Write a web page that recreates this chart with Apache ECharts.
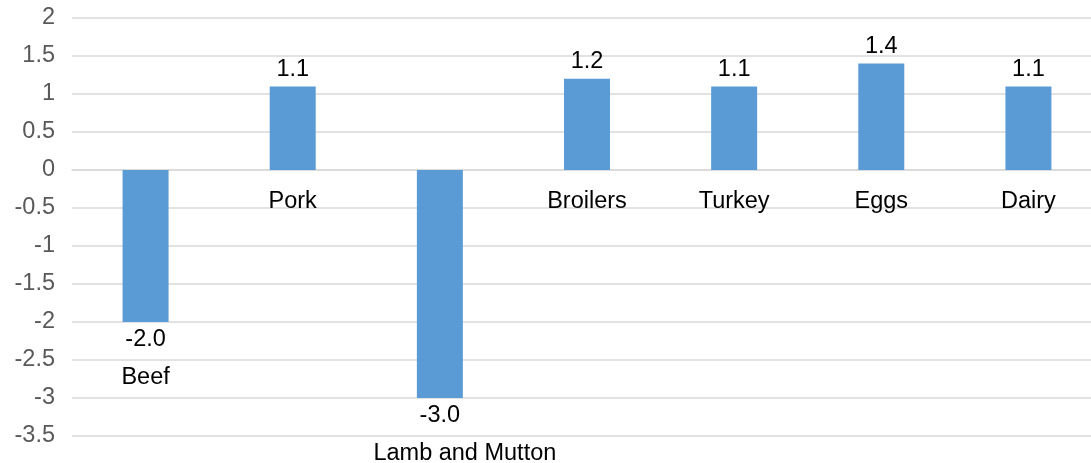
<!DOCTYPE html>
<html>
<head>
<meta charset="utf-8">
<script src="https://cdn.jsdelivr.net/npm/echarts@6/dist/echarts.min.js"></script>
<style>
html,body{margin:0;padding:0;background:#fff;}
#c{width:1091px;height:463px;}
</style>
</head>
<body>
<div id="c"></div>
<script>
var categories = ['Beef', 'Pork', 'Lamb and Mutton', 'Broilers', 'Turkey', 'Eggs', 'Dairy'];
var values = [-2.0, 1.1, -3.0, 1.2, 1.1, 1.4, 1.1];
var yMin = -3.5, yMax = 2, yStep = 0.5;

var FONT = 'Liberation Sans, Arial, sans-serif';
var FS = 23.5;
var chart = echarts.init(document.getElementById('c'));
chart.setOption({
  animation: false,
  grid: { left: 72, right: -11, top: 18, bottom: 27, containLabel: false, outerBoundsMode: 'none' },
  xAxis: {
    type: 'category',
    data: categories,
    axisLine: { show: true, onZero: true, lineStyle: { color: '#d9d9d9', width: 1.5 } },
    axisTick: { show: false },
    axisLabel: { show: false }
  },
  yAxis: {
    type: 'value',
    min: yMin, max: yMax, interval: yStep,
    axisLine: { show: false },
    axisTick: { show: false },
    splitLine: { lineStyle: { color: '#d9d9d9', width: 1.5 } },
    axisLabel: { margin: 17, fontSize: FS, color: '#595959', fontFamily: FONT }
  },
  series: [{
    type: 'bar',
    barWidth: 46,
    data: values.map(function (v) {
      return {
        value: v,
        label: v < 0 ? { position: 'bottom', distance: 5 } : { position: 'top', distance: 4 }
      };
    }),
    itemStyle: { color: '#5b9bd5' },
    label: {
      show: true,
      fontFamily: FONT,
      formatter: function (p) {
        var s = p.value.toFixed(1);
        if (p.value < 0) {
          var name = categories[p.dataIndex];
          var tag = name.length > 8 ? 'w' : 'n';
          return '{v|' + s + '}\n{' + tag + '|' + name + '}';
        }
        return '{v|' + s + '}';
      },
      rich: {
        v: { fontSize: FS, color: '#000', fontFamily: FONT, lineHeight: 26 },
        n: { fontSize: FS, color: '#000', fontFamily: FONT, lineHeight: 50 },
        w: { fontSize: FS, color: '#000', fontFamily: FONT, lineHeight: 50, padding: [0, 0, 0, 50] }
      }
    }
  }, {
    type: 'scatter',
    symbol: 'rect',
    symbolSize: 1,
    itemStyle: { color: 'rgba(0,0,0,0)' },
    silent: true,
    z: 5,
    data: categories.map(function (c, i) {
      return values[i] >= 0 ? { value: [i, 0], name: c } : { value: [i, '-'], name: c };
    }),
    label: {
      show: true,
      position: 'bottom',
      distance: 19,
      fontSize: FS,
      color: '#000',
      opacity: 1,
      textBorderWidth: 0,
      fontFamily: FONT,
      formatter: function (p) { return p.name; }
    }
  }]
});
</script>
</body>
</html>
